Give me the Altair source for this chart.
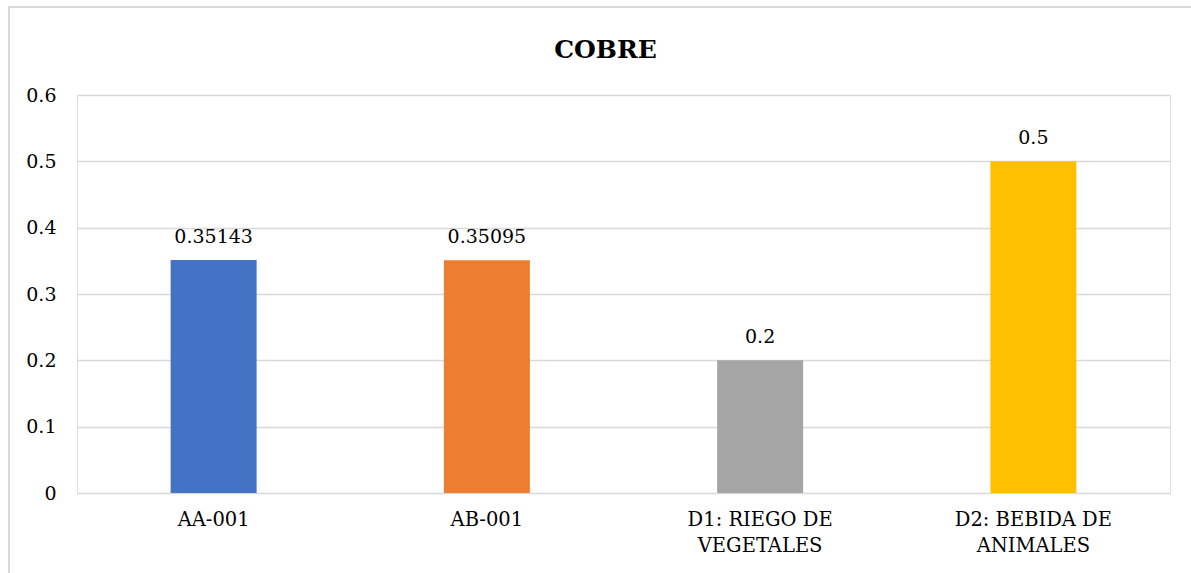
import altair as alt
import pandas as pd

# Copper concentration by sample and regulatory limit
categories = ["AA-001", "AB-001", "D1: RIEGO DE\nVEGETALES", "D2: BEBIDA DE\nANIMALES"]
values = [0.35143, 0.35095, 0.2, 0.5]
colors = ["#4472C4", "#ED7D31", "#A5A5A5", "#FFC000"]
y_ticks = [0, 0.1, 0.2, 0.3, 0.4, 0.5, 0.6]

df = pd.DataFrame({
    "cat": categories,
    "value": values,
    "label": [f"{v:g}" for v in values],
})

FONT = "DejaVu Serif"
W, H = 1093, 398

x_enc = alt.X(
    "cat:N",
    sort=categories,
    scale=alt.Scale(paddingInner=0, paddingOuter=0),
    axis=alt.Axis(
        title=None, domain=False, ticks=False, grid=False, labelAngle=0,
        labelFont=FONT, labelFontSize=19.5, labelColor="#000000",
        labelPadding=17, labelLineHeight=26,
        labelExpr="split(datum.label, '\\n')",
    ),
)
y_enc = alt.Y(
    "value:Q",
    scale=alt.Scale(domain=[0, 0.6], nice=False),
    axis=alt.Axis(
        title=None, domain=False, ticks=False, values=y_ticks, format=".1~f",
        grid=True, gridColor="#d9d9d9", gridWidth=1.3,
        labelFont=FONT, labelFontSize=19, labelColor="#000000", labelPadding=21,
    ),
)

bars = alt.Chart(df).mark_bar(size=86).encode(
    x=x_enc,
    y=y_enc,
    color=alt.Color("cat:N", scale=alt.Scale(domain=categories, range=colors), legend=None),
)

labels = alt.Chart(df).mark_text(
    font=FONT, fontSize=19, color="#000000", baseline="alphabetic", dy=-17
).encode(
    x=alt.X("cat:N", sort=categories),
    y="value:Q",
    text="label:N",
)

# light frame around the whole chart
frame = alt.Chart(df).mark_rect(
    fill=None, stroke="#d9d9d9", strokeWidth=1.5
).encode(
    x=alt.value(-68), x2=alt.value(W + 40),
    y=alt.value(-88), y2=alt.value(H + 100),
)

chart = alt.layer(frame, bars, labels).properties(
    width=W,
    height=H,
    padding={"left": 77, "top": 95, "right": 21, "bottom": 80},
    autosize=alt.AutoSizeParams(type="none"),
    title=alt.TitleParams(
        "COBRE", font=FONT, fontSize=25, fontWeight="bold", color="#000000",
        anchor="middle", dx=-18, baseline="alphabetic", offset=-77,
    ),
).configure_view(stroke=None).configure(background="white")

chart.save("out.html", embed_options={"renderer": "svg", "actions": False})
